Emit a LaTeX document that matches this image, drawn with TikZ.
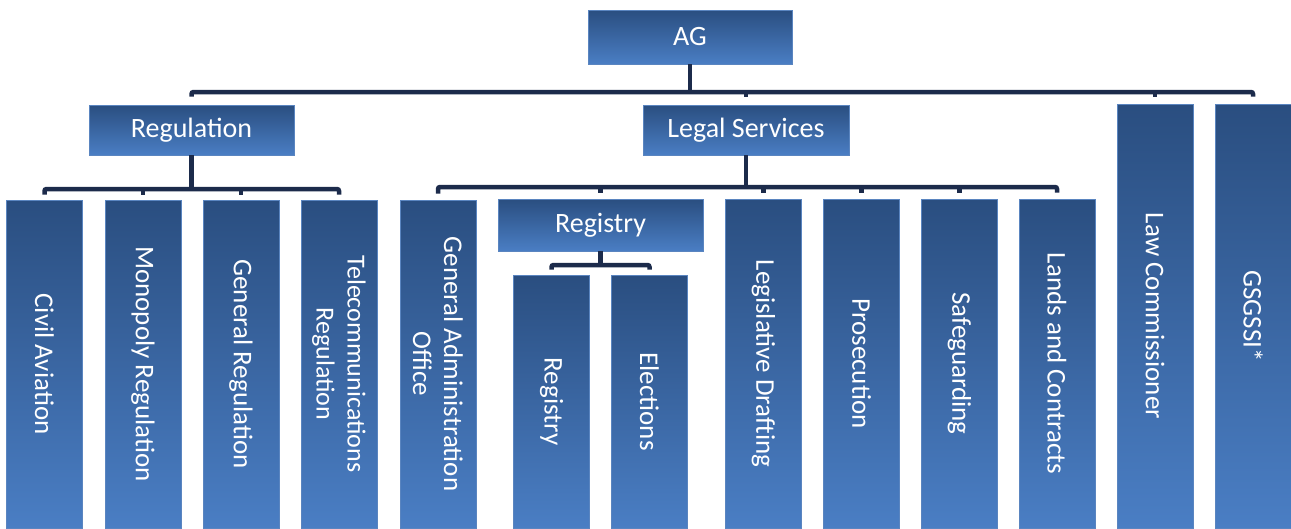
\documentclass[tikz,border=0pt]{standalone}
\usepackage{fontspec}
\setmainfont{Carlito}
\usetikzlibrary{calc}
\definecolor{boxtop}{HTML}{2A4E80}
\definecolor{boxbot}{HTML}{4A7EC4}
\definecolor{wirec}{HTML}{1C2B4B}
\definecolor{edgec}{HTML}{5A85C0}
\tikzset{
  hbox/.style={draw=edgec, line width=0.6pt, top color=boxtop, bottom color=boxbot,
    text=white, inner sep=0pt, minimum height=50pt, minimum width=205pt,
    font=\fontsize{28}{33}\selectfont},
  vbox/.style={draw=edgec, line width=0.6pt, top color=boxtop, bottom color=boxbot,
    inner sep=0pt, minimum width=76pt},
  vtext/.style={rotate=-90, text=white, align=center, inner sep=0pt,
    font=\fontsize{27}{31}\selectfont},
  wire/.style={draw=wirec, line width=4.5pt},
  endwire/.style={wire, rounded corners=2pt}
}
\begin{document}
\begin{tikzpicture}[x=1pt, y=-1pt]
\useasboundingbox (0,0) rectangle (1291,528);
\fill[white] (0,0) rectangle (1291,528);

% headers
\node[hbox, minimum width=204pt, minimum height=54pt] (ag) at (690,37) {AG};
\node[hbox] (reg) at (191.5,130) {Regulation};
\node[hbox, minimum width=206pt] (legal) at (746,130) {Legal Services};
\node[hbox, minimum height=52pt] (rhdr) at (600.5,225) {Registry};

% regulation children (y 200..528)
\node[vbox, minimum height=328pt, label={[vtext]center:Civil Aviation}] (civ) at (44.5,364) {};
\node[vbox, minimum height=328pt, label={[vtext]center:Monopoly Regulation}] (mono) at (143,364) {};
\node[vbox, minimum height=328pt, label={[vtext]center:General Regulation}] (genr) at (241,364) {};
\node[vbox, minimum height=328pt, label={[vtext, font=\fontsize{26}{31}\selectfont]center:Telecommunications\\Regulation}] (tel) at (339,364) {};

% legal services children
\node[vbox, minimum height=328pt, label={[vtext]center:General Administration\\Office}] (gao) at (438,364) {};
\node[vbox, minimum height=253pt, label={[vtext]center:Registry}] (regc) at (551.5,401.5) {};
\node[vbox, minimum height=253pt, label={[vtext]center:Elections}] (elec) at (649.5,401.5) {};
\node[vbox, minimum height=329pt, label={[vtext]center:Legislative Drafting}] (ld) at (763.5,363.5) {};
\node[vbox, minimum height=329pt, label={[vtext]center:Prosecution}] (pros) at (861.5,363.5) {};
\node[vbox, minimum height=329pt, label={[vtext]center:Safeguarding}] (safe) at (959.5,363.5) {};
\node[vbox, minimum height=329pt, label={[vtext]center:Lands and Contracts}] (lands) at (1057,363.5) {};

% direct reports
\node[vbox, minimum height=424pt, label={[vtext]center:Law Commissioner}] (lc) at (1155,316) {};
\node[vbox, minimum height=424pt, label={[vtext]center:GSGSSI*}] (gs) at (1253,316) {};

% connectors: AG level
\coordinate (topbar) at (0,92);
\draw[wire] (ag.south) -- (ag.south |- topbar);
\draw[endwire] ($(reg.north)+(0,-8)$) -- (reg.north |- topbar) -- (gs.north |- topbar) -- ($(gs.north)+(0,-7)$);
\draw[wire] (legal.north |- topbar) -- ($(legal.north)+(0,-8)$);
\draw[wire] (lc.north |- topbar) -- ($(lc.north)+(0,-7)$);

% regulation level
\coordinate (regbar) at (0,189);
\draw[wire] (reg.south) -- (reg.south |- regbar);
\draw[endwire] ($(civ.north)+(0,-5)$) -- (civ.north |- regbar) -- (tel.north |- regbar) -- ($(tel.north)+(0,-5)$);
\draw[wire] (mono.north |- regbar) -- ($(mono.north)+(0,-5)$);
\draw[wire] (genr.north |- regbar) -- ($(genr.north)+(0,-5)$);

% legal services level
\coordinate (legbar) at (0,187);
\draw[wire] (legal.south) -- (legal.south |- legbar);
\draw[endwire] ($(gao.north)+(0,-6)$) -- (gao.north |- legbar) -- (lands.north |- legbar) -- ($(lands.north)+(0,-6)$);
\draw[wire] (rhdr.north |- legbar) -- ($(rhdr.north)+(0,-6)$);
\draw[wire] (ld.north |- legbar) -- ($(ld.north)+(0,-6)$);
\draw[wire] (pros.north |- legbar) -- ($(pros.north)+(0,-6)$);
\draw[wire] (safe.north |- legbar) -- ($(safe.north)+(0,-6)$);

% registry level
\coordinate (rbar) at (0,265);
\draw[wire] (rhdr.south) -- (rhdr.south |- rbar);
\draw[endwire] ($(regc.north)+(0,-5)$) -- (regc.north |- rbar) -- (elec.north |- rbar) -- ($(elec.north)+(0,-5)$);
\end{tikzpicture}
\end{document}
